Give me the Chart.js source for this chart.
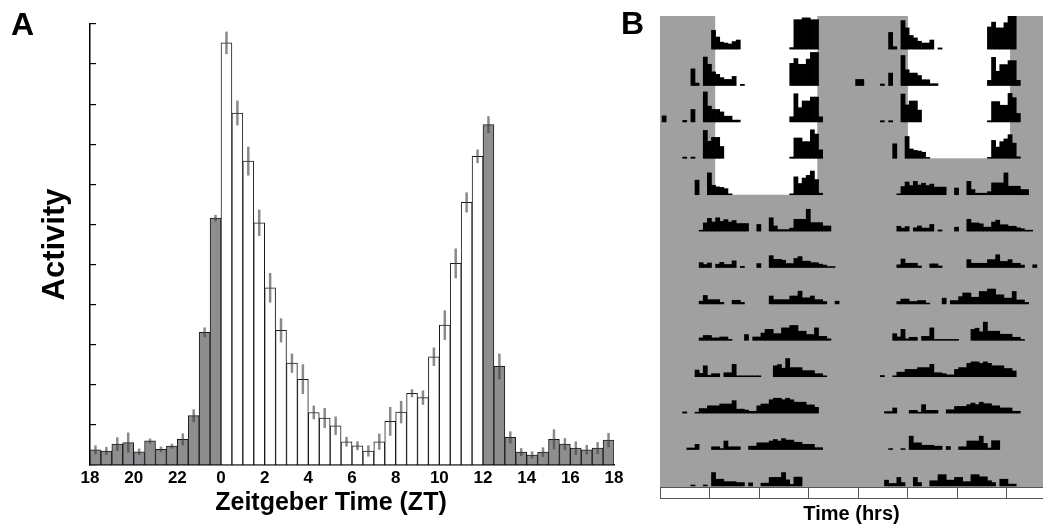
<!DOCTYPE html>
<html>
<head>
<meta charset="utf-8">
<script src="https://cdn.jsdelivr.net/npm/chart.js@4.4.1/dist/chart.umd.min.js"></script>
<style>
body{margin:0;background:#fff;width:1043px;height:527px;overflow:hidden;position:relative;font-family:"Liberation Sans",Arial,sans-serif}
canvas{position:absolute;top:0}
#chartA{left:0}
#chartB{left:640px}
.lbl{position:absolute;font-weight:bold;color:#000;line-height:1;white-space:nowrap}
</style>
</head>
<body>
<canvas id="chartA" width="640" height="527"></canvas>
<canvas id="chartB" width="403" height="527"></canvas>
<div class="lbl" style="left:11px;top:8px;font-size:32px">A</div>
<div class="lbl" style="left:621px;top:7px;font-size:32px">B</div>
<div class="lbl" style="left:131px;width:400px;text-align:center;top:489px;font-size:25px">Zeitgeber Time (ZT)</div>
<script>

/* ---------- DATA : panel A (half hour bins, ZT18 -> ZT18) ---------- */

const ztLabels = ["18","20","22","0","2","4","6","8","10","12","14","16","18"]

const activity = [
0.38,0.35,0.52,0.56,0.33,0.6,0.39,0.47,0.64,1.23,3.31,6.16,
10.53,8.78,7.58,6.04,4.42,3.36,2.54,2.14,1.31,1.17,0.98,0.58,
0.48,0.35,0.58,1.09,1.32,1.79,1.68,2.7,3.49,5.03,6.55,7.7,
8.49,2.46,0.69,0.32,0.25,0.32,0.64,0.52,0.42,0.38,0.42,0.62
]

const sem = [
0.11,0.1,0.17,0.25,0.08,0.06,0.07,0.06,0.15,0.16,0.12,0.08,
0.28,0.31,0.36,0.33,0.37,0.3,0.24,0.37,0.17,0.25,0.23,0.12,
0.11,0.14,0.2,0.36,0.28,0.1,0.18,0.23,0.37,0.37,0.25,0.17,
0.21,0.32,0.15,0.1,0.09,0.12,0.25,0.15,0.17,0.12,0.15,0.18
]

const binHours = 0.5
const startZT = 18
const lightsOn = 0
const lightsOff = 12

/* ---------- DATA : panel B actogram (counts per half hour bin, one array per day) ---------- */

const day1 = [
0,0,0,0,0,0,0,0,0,0,0,0,
6.2,4,2.3,2,1.7,2.5,3,0,0,0,0,0,
0,0,0,0,0,0,0,0.5,9.7,9.7,10.3,10.3,
9.7,9.7,0,0,0,0,0,0,0,0,0,0
]
const day2 = [
0,0,0,0,0,0,0,5.5,0.8,0,9.4,7,
4.5,3.7,2.6,2,2,3,0,0.4,0,0,0,0,
0,0,0,0,0,0,0,7.3,8.9,7,7,8.7,
10.9,10.9,0,0,0,0,0,0,0,0,0,2
]
const day3 = [
2,0,0,0,0,0.5,0,4.1,0,0,9.9,5.2,
4.1,4.1,3.3,1.9,1.9,0.6,0.6,0,0,0,0,0,
0,0,0,0,0,0,0,1.7,9.3,4.7,6.9,6.9,
8.2,8.2,1.7,0,0,0,0,0,0,0,0,0
]
const day4 = [
0,0,0,0,0,0.4,0,0.4,0,0,9.2,5.6,
6.9,6.9,3.9,0,0,0,0,0,0,0,0,0,
0,0,0,0,0,0,0,0.4,6.7,6.7,5.5,5.5,
9.4,8,2.8,0,0,0,0,0,0,0,0,0
]
const day5 = [
0,0,0,0,0,0,0,0,4.8,0,0,7.2,
3.1,2.6,2.4,2,0.3,0,0,0,0,0,0,0,
0,0,0,0,0,0,0,0.3,5.9,3.7,5.5,6.4,
7.8,5,0.5,0,0,0,0,0,0,0,0,0
]
const day6 = [
0,0,0,0,0,0,0,0,0,0.3,2.7,4.2,
3,4.4,3.2,3.8,3,3.5,2.5,2.5,2.5,0,0,2.2,
0,0,4.4,1.7,0.5,0.5,0.5,1,3.9,3.9,3.9,7.2,
2.8,2.8,2.8,1.7,1.7,0,0,0,0,0,0,0
]
const day7 = [
0,0,0,0,0,0,0,0,0,1.6,1,1.5,
0,1.1,1.7,1,1,2.2,0,0.4,0,0,0,1.3,
0,0,3.9,2.7,2.7,2.4,1.3,1.3,3,3.6,2.1,2.1,
1.6,1.6,1.1,0.8,0.3,0.3,0,0,0,0,0,0
]
const day8 = [
0,0,0,0,0,0,0,0,0,0.9,2.8,1.4,
1.4,1.4,0.5,0,0,1.2,1.2,0.5,0,0,0,0,
0,0,2.6,1.4,1.4,1.4,1.4,2.6,2.6,4.2,2,2,
2.6,1.4,1.4,0.8,0,0,0.9,0,0,0,0,0
]
const day9 = [
0,0,0,0,0,0,0,0,0,0.8,1.6,1.6,
0.8,0.8,1.1,1.1,0.3,0,0,0,1.9,0,1.1,1.1,
2.4,3.6,3.6,2.2,2.2,4.1,4.1,4.9,4.9,3,3,1.9,
1.9,4.1,1.3,1.3,0.5,0,0,0,0,0,0,0
]
const day10 = [
0,0,0,0,0,0,0,0,2.2,1.1,3.6,0.5,
1,1,0,1.3,1.3,4.1,0.3,0.3,0.3,0.3,0.3,0.3,
0,0,0,3.6,4,2.8,6,3,3,3,2,2,
2,1,1,0.3,0,0,0,0,0,0,0,0
]
const day11 = [
0,0,0,0,0,0.4,0,0,0.3,1.5,1.5,2.4,
2.4,2.4,3,3,3,4.1,1.3,1.3,1,0.6,0.6,2.4,
3,3,4.4,4.9,4.9,4.4,4.9,4.4,3.6,3.6,3.6,2.7,
2.7,1.9,0,0,0,0,0,0,0,0,0,0
]
const day12 = [
0,0,0,0,0,0,0.5,0.5,1.7,0,0,0,
0.9,0.9,0.3,2.8,0.9,0.9,0.9,0,0,1.1,1.1,2.2,
2.2,2.2,2.8,3.3,2.8,3.6,3.1,3.1,2.4,2.4,1.7,1.7,
1.7,0.6,0.6,0,0,0,0,0,0,0,0,0
]
const day13 = [
0,0,0,0,0,0,0,0.3,0,0,0.3,0,
4.4,2.2,2.2,1.4,1.4,1.4,1.1,1.1,0,1,0,0,
0.9,0.9,2.8,2.8,2.8,4.4,2,0.5,2.9,2.9,0,0,
0,0,0,0,0,0,0,0,0,0,0,0
]
const day14 = [
0,0,0,0,0,0,1.9,0.8,0.8,2.8,1.1,0,
0,2.8,1.1,0,0,1.7,1.7,3.7,3.7,1.9,1.9,2.8,
2.8,1.4,1.4,3.7,3.7,3,3,1.7,1.1,0,2.2,2.2,
0.6,0.6,0,0,0,0,0,0,0,0,0,0
]

const days = [day1,day2,day3,day4,day5,day6,day7,day8,day9,day10,day11,day12,day13,day14]
const rowCount = 13
const rowCounts = 12          // counts that fill one row height
const lightLeft = [6.7, 19.1]   // hours, first plotted day
const lightRight = [30.1, 42.5] // hours, second plotted day
const lightRowsLeft = 5
const lightRowsRight = 4
const timeTicks = [0,6,12,18,24,30,36,42,48]

Chart.defaults.font.family = '"Liberation Sans", Arial, sans-serif'
Chart.defaults.color = "#000"

/* ---------- PANEL A ---------- */

const errorBars = {
id:"errorBars",
afterDatasetsDraw(chart){
const ctx = chart.ctx
const y = chart.scales.y
const meta = chart.getDatasetMeta(0)
ctx.save()
ctx.strokeStyle = "rgba(60,60,60,0.6)"
ctx.lineWidth = 2.5
meta.data.forEach((bar,i)=>{
ctx.beginPath()
ctx.moveTo(bar.x, y.getPixelForValue(activity[i]-sem[i]))
ctx.lineTo(bar.x, y.getPixelForValue(activity[i]+sem[i]))
ctx.stroke()
})
ctx.restore()
}
}

function isLight(i){
const zt = (startZT + i*binHours) % 24
return zt >= lightsOn && zt < lightsOff
}

new Chart(document.getElementById("chartA"),{

type:"bar",

data:{
datasets:[{
data: activity.map((v,i)=>({x:(i+0.5)*binHours, y:v})),
backgroundColor: activity.map((v,i)=> isLight(i) ? "#ffffff" : "#8e8e91"),
borderColor:"#1b1b1b",
borderWidth:1,
barPercentage:1,
categoryPercentage:1
}]
},

options:{
responsive:false,
animation:false,
devicePixelRatio:1,
layout:{padding:{top:24,right:26,left:0,bottom:0}},
plugins:{legend:{display:false},tooltip:{enabled:false}},
scales:{
x:{
type:"linear",
min:0,
max:24,
offset:false,
grid:{display:false,offset:false},
border:{display:true,color:"#000",width:1.5},
ticks:{stepSize:2,autoSkip:false,maxRotation:0,padding:-5,
font:{size:17,weight:"bold"},
callback:(v,i)=>ztLabels[i]},
afterFit:s=>{s.height=62}
},
y:{
min:0,
max:11,
ticks:{stepSize:1,display:false},
grid:{drawOnChartArea:false,drawTicks:true,tickLength:-6,color:"#000",lineWidth:1.2},
border:{display:true,color:"#000",width:1.5},
title:{display:true,text:"Activity",font:{size:31,weight:"bold"},padding:{top:37,bottom:0}},
afterFit:s=>{s.width=90}
}
}
},

plugins:[errorBars]

})

/* ---------- PANEL B ---------- */

// double plot: row r = day r | day r+1
const actoData = []
days.forEach((day,d)=>{
day.forEach((c,i)=>{
if(!c) return
const x = (i+1)*binHours
if(d < rowCount) actoData.push({x:x, y:[d+1-c/rowCounts, d+1]})
if(d > 0) actoData.push({x:x+24, y:[d-c/rowCounts, d]})
})
})

const actoBack = {
id:"actoBack",
beforeDatasetsDraw(chart){
const {ctx, chartArea:a, scales:{x,y}} = chart
ctx.save()
ctx.fillStyle = "#a0a0a0"
ctx.fillRect(a.left, a.top, a.right-a.left, a.bottom-a.top)
ctx.fillStyle = "#ffffff"
const top = y.getPixelForValue(y.min)
ctx.fillRect(x.getPixelForValue(lightLeft[0]), top,
x.getPixelForValue(lightLeft[1])-x.getPixelForValue(lightLeft[0]),
y.getPixelForValue(lightRowsLeft)-top)
ctx.fillRect(x.getPixelForValue(lightRight[0]), top,
x.getPixelForValue(lightRight[1])-x.getPixelForValue(lightRight[0]),
y.getPixelForValue(lightRowsRight)-top)
ctx.restore()
},
afterDraw(chart){
const {ctx, chartArea:a, scales:{x}} = chart
ctx.save()
ctx.fillStyle = "#fff"
ctx.fillRect(a.left, a.bottom, a.right-a.left, 12)
ctx.strokeStyle = "#555"
ctx.lineWidth = 1
ctx.strokeRect(a.left+0.5, a.bottom+0.5, a.right-a.left+4, 11)
timeTicks.forEach(t=>{
const px = Math.round(x.getPixelForValue(t))+0.5
if(px > a.right) return
ctx.beginPath()
ctx.moveTo(px, a.bottom)
ctx.lineTo(px, a.bottom+12)
ctx.stroke()
})
ctx.restore()
}
}

new Chart(document.getElementById("chartB"),{

type:"bar",

data:{
datasets:[{
data:actoData,
backgroundColor:"#000",
borderWidth:0,
barPercentage:1,
categoryPercentage:1
}]
},

options:{
responsive:false,
animation:false,
devicePixelRatio:1,
layout:{padding:{top:16,right:0,left:20,bottom:0}},
plugins:{legend:{display:false},tooltip:{enabled:false}},
scales:{
x:{
type:"linear",
min:0,
max:46.5,
offset:false,
grid:{display:false,offset:false},
border:{display:false},
ticks:{display:false},
title:{display:true,text:"Time (hrs)",font:{size:20,weight:"bold"},padding:{top:0,bottom:1}},
afterFit:s=>{s.height=40}
},
y:{
display:false,
min:0.09,
max:13.03,
reverse:true
}
}
},

plugins:[actoBack]

})

</script>
</body>
</html>
